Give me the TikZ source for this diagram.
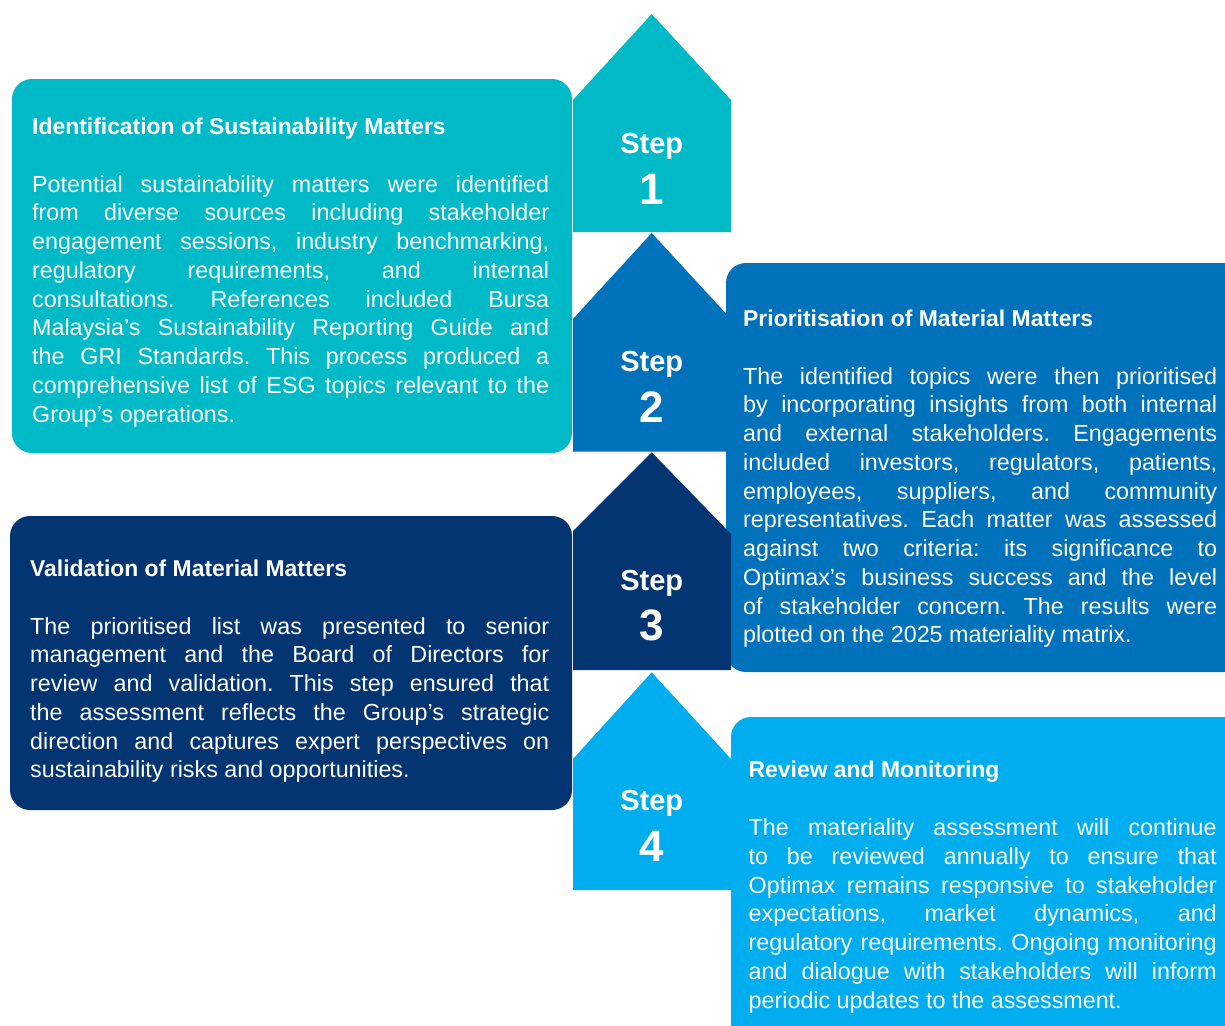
\documentclass[tikz,border=0pt]{standalone}
\usepackage{fontspec}
\setmainfont{Liberation Sans}
\usepackage{graphicx}
\definecolor{cteal}{RGB}{0,186,200}
\definecolor{cblue}{RGB}{0,114,188}
\definecolor{cnavy}{RGB}{4,53,115}
\definecolor{clight}{RGB}{0,174,239}
\newlength\jlw
\newcommand\jline[2]{\settowidth\jlw{#2}\ifdim\jlw>#1\relax\resizebox{#1}{\height}{#2}\else\makebox[#1][s]{#2}\fi}
\tikzset{
 bodytxt/.style={font=\frenchspacing\fontsize{23.3}{28.75}\selectfont, text=white, inner sep=0pt, anchor=base west},
 titletxt/.style={font=\bfseries\fontsize{22.9}{28.75}\selectfont, text=white, inner sep=0pt, anchor=base west},
 steptxt/.style={font=\bfseries\fontsize{29}{30}\selectfont, text=white, inner sep=0pt, anchor=base},
 numtxt/.style={font=\bfseries\fontsize{44}{44}\selectfont, text=white, inner sep=0pt, anchor=base},
 card/.style={rounded corners=20pt},
}
\begin{document}
\begin{tikzpicture}[x=1pt,y=-1pt]
\useasboundingbox (0,0) rectangle (1225,1025);
% box 1 and step 1
\fill[cteal,card] (12,79) rectangle (572,453);
\fill[cteal] (573,232) -- (573,100) -- (651.7,14) -- (731,100) -- (731,232) -- cycle;
% step 2 and box 2
\fill[cblue] (573,451.7) -- (573,319) -- (651.7,233) -- (731,319) -- (731,451.7) -- cycle;
\fill[cblue,card] (726,263) rectangle (1245,672);
% step 3 and box 3
\fill[cnavy,card] (10,516) rectangle (572,810);
\fill[cnavy] (573,670) -- (573,531) -- (651.7,452.3) -- (731,534) -- (731,670) -- cycle;
% step 4 and box 4
\fill[clight] (573,890) -- (573,759) -- (651.7,672.3) -- (731,759) -- (731,890) -- cycle;
\fill[clight,card] (731,717) rectangle (1245,1045);

% step labels
\node[steptxt] (s1) at (651.7,153) {Step};
\node[numtxt] (n1) at (651.7,204) {1};
\node[steptxt] (s2) at (651.7,371.7) {Step};
\node[numtxt] (n2) at (651.7,422.7) {2};
\node[steptxt] (s3) at (651.7,590) {Step};
\node[numtxt] (n3) at (651.7,640) {3};
\node[steptxt] (s4) at (651.7,810) {Step};
\node[numtxt] (n4) at (651.7,861) {4};

% box 1 text
\node[titletxt] (t1) at (32,134.5) {Identification of Sustainability Matters};
\foreach \s [count=\i] in {
 {Potential sustainability matters were identified},
 {from diverse sources including stakeholder},
 {engagement sessions, industry benchmarking,},
 {regulatory requirements, and internal},
 {consultations. References included Bursa},
 {Malaysia’s Sustainability Reporting Guide and},
 {the GRI Standards. This process produced a},
 {comprehensive list of ESG topics relevant to the}}
 \node[bodytxt] (a\i) at (32,{192+28.75*(\i-1)}) {\jline{517pt}{\s}};
\node[bodytxt] (a9) at (32,422) {Group’s operations.};

% box 2 text
\node[titletxt] (t2) at (743,326.5) {Prioritisation of Material Matters};
\foreach \s [count=\i] in {
 {The identified topics were then prioritised},
 {by incorporating insights from both internal},
 {and external stakeholders. Engagements},
 {included investors, regulators, patients,},
 {employees, suppliers, and community},
 {representatives. Each matter was assessed},
 {against two criteria: its significance to},
 {Optimax’s business success and the level},
 {of stakeholder concern. The results were}}
 \node[bodytxt] (b\i) at (743,{384+28.75*(\i-1)}) {\jline{474pt}{\s}};
\node[bodytxt] (b10) at (743,642.75) {plotted on the 2025 materiality matrix.};

% box 3 text
\node[titletxt] (t3) at (30,576.5) {Validation of Material Matters};
\foreach \s [count=\i] in {
 {The prioritised list was presented to senior},
 {management and the Board of Directors for},
 {review and validation. This step ensured that},
 {the assessment reflects the Group’s strategic},
 {direction and captures expert perspectives on}}
 \node[bodytxt] (c\i) at (30,{634+28.75*(\i-1)}) {\jline{519pt}{\s}};
\node[bodytxt] (c6) at (30,777.75) {sustainability risks and opportunities.};

% box 4 text
\node[titletxt] (t4) at (748.5,777.7) {Review and Monitoring};
\foreach \s [count=\i] in {
 {The materiality assessment will continue},
 {to be reviewed annually to ensure that},
 {Optimax remains responsive to stakeholder},
 {expectations, market dynamics, and},
 {regulatory requirements. Ongoing monitoring},
 {and dialogue with stakeholders will inform}}
 \node[bodytxt] (d\i) at (748.5,{835.5+28.75*(\i-1)}) {\jline{468pt}{\s}};
\node[bodytxt] (d7) at (748.5,1008) {periodic updates to the assessment.};
\end{tikzpicture}
\end{document}
